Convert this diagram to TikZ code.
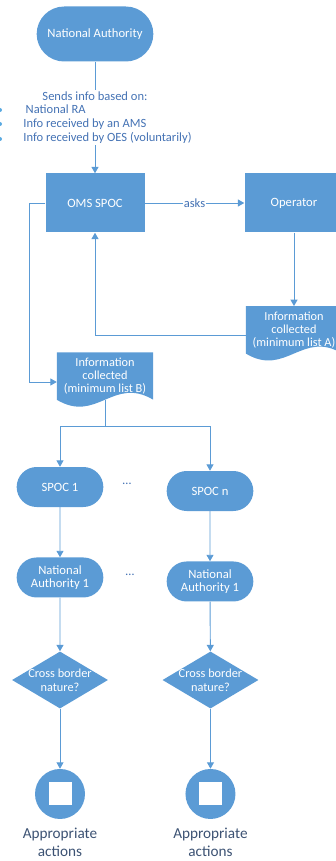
\documentclass[tikz,border=0pt]{standalone}
\usepackage{fontspec}
\setmainfont{Carlito}
\usetikzlibrary{positioning,shapes.misc,shapes.geometric,calc,backgrounds,arrows.meta}
\definecolor{flowblue}{RGB}{91,155,213}
\definecolor{infoblue}{RGB}{68,114,180}
\definecolor{actgray}{RGB}{60,82,115}
\definecolor{dotblue}{RGB}{90,170,225}

\begin{document}
\begin{tikzpicture}[x=0.3mm,y=-0.3mm,inner sep=1pt]
\tikzstyle{term}=[rounded rectangle, fill=flowblue, text=white, align=center, font=\fontsize{10.8}{11.5}\selectfont]
\tikzstyle{procbox}=[rectangle, fill=flowblue, text=white, minimum width=29.7mm, minimum height=17.7mm, font=\fontsize{10.8}{11.5}\selectfont]
\tikzstyle{doc}=[rectangle, text=white, align=center, minimum width=28.8mm, minimum height=14.1mm, font=\fontsize{10.5}{11}\selectfont]
\tikzstyle{decide}=[diamond, fill=flowblue, inner sep=0pt, minimum width=28.8mm, minimum height=17.1mm]
\tikzstyle{dtext}=[text=white, align=center, font=\fontsize{10.5}{12}\selectfont]
\tikzstyle{stopc}=[circle, fill=flowblue, minimum size=15mm]
\tikzstyle{stopsq}=[rectangle, fill=white, minimum size=6.9mm]
\tikzstyle{note}=[text=infoblue, font=\fontsize{10.7}{12.3}\selectfont]
\tikzstyle{act}=[text=actgray, align=center, font=\fontsize{13}{15.5}\selectfont]
\tikzstyle{connect}=[-{Triangle[width=6pt,length=5.5pt]}, line width=0.8pt, draw=flowblue]
\tikzstyle{plain}=[line width=0.8pt, draw=flowblue]
\useasboundingbox (0,0) rectangle (335,861);
% top part
\node[term, minimum width=35.7mm, minimum height=16.5mm] (na) at (95,34) {National Authority};
\node[note] (sends) at (95,96) {Sends info based on:};
\node[note, align=left, anchor=north west] (list) at (22,103) {\hspace{2pt}National RA\\Info received by an AMS\\Info received by OES (voluntarily)};
\foreach \y [count=\i] in {110,124,139}
  \node[circle, fill=dotblue, inner sep=0pt, minimum size=1.2mm] (b\i) at (0,\y) {};
\node[procbox] (oms) at (95,203) {OMS SPOC};
\node[procbox] (op) at (294,203) {Operator};
\node[doc] (docA) [below=22mm of op] {Information\\collected\\(minimum list A)};
\node[doc] (docB) at (105,376) {Information\\collected\\(minimum list B)};
\begin{scope}[on background layer]
\foreach \d in {docA,docB}
  \fill[flowblue] (\d.north west) -- (\d.north east) -- (\d.south east)
    .. controls +(-40,-24) and +(40,24) .. (\d.south west) -- cycle;
\end{scope}
% columns
\node[term, minimum width=26.7mm, minimum height=12mm] (spoc1) at (60,487) {SPOC 1};
\node[term, minimum width=26.7mm, minimum height=12mm] (spocn) at (210,491) {SPOC n};
\node[term, minimum width=26.7mm, minimum height=12mm] (na1) [below=15mm of spoc1] {National\\Authority 1};
\node[term, minimum width=26.7mm, minimum height=12mm] (nan) [below=15mm of spocn] {National\\Authority 1};
\node[note] (dots1) at (127,484) {\dots};
\node[note] (dots2) at (130,575) {\dots};
\node[decide, label={[dtext]center:{Cross border\\nature?}}] (dia1) at (60,680) {};
\node[decide, label={[dtext]center:{Cross border\\nature?}}] (dian) [right=16.2mm of dia1] {};
\node[stopc] (end1) [below=18mm of dia1] {};
\node[stopc] (endn) [below=18mm of dian] {};
\node[stopsq] (sq1) at (end1) {};
\node[stopsq] (sqn) at (endn) {};
\node[act] (act1) [below=2.2mm of end1] {Appropriate\\actions};
\node[act] (actn) [below=2.2mm of endn] {Appropriate\\actions};
% connectors
\draw[plain] (na.south) -- (sends.north);
\draw[connect] (list.south -| oms.north) -- (oms.north);
\path (oms) edge[connect] node[fill=white, text=infoblue, font=\fontsize{10.7}{12}\selectfont] (asks) {asks} (op);
\draw[connect] (op.south) -- (docA.north);
\draw[connect] ($(docA.west)+(0,6)$) -| (oms.south);
\draw[connect] (oms.west) -- ++(-16,0) |- ($(docB.west)+(0,6)$);
\coordinate (split) at ($(docB.south)+(0,27)$);
\draw[plain] (docB.south) -- (split);
\draw[connect] (split) -| (spoc1.north);
\draw[connect] (split) -| (spocn.north);
\draw[connect] (spoc1) -- (na1);
\draw[connect] (spocn) -- (nan);
\draw[connect] (na1) -- (dia1);
\draw[connect] (nan) -- (dian);
\draw[connect] (dia1) -- (end1);
\draw[connect] (dian) -- (endn);
\end{tikzpicture}
\end{document}
